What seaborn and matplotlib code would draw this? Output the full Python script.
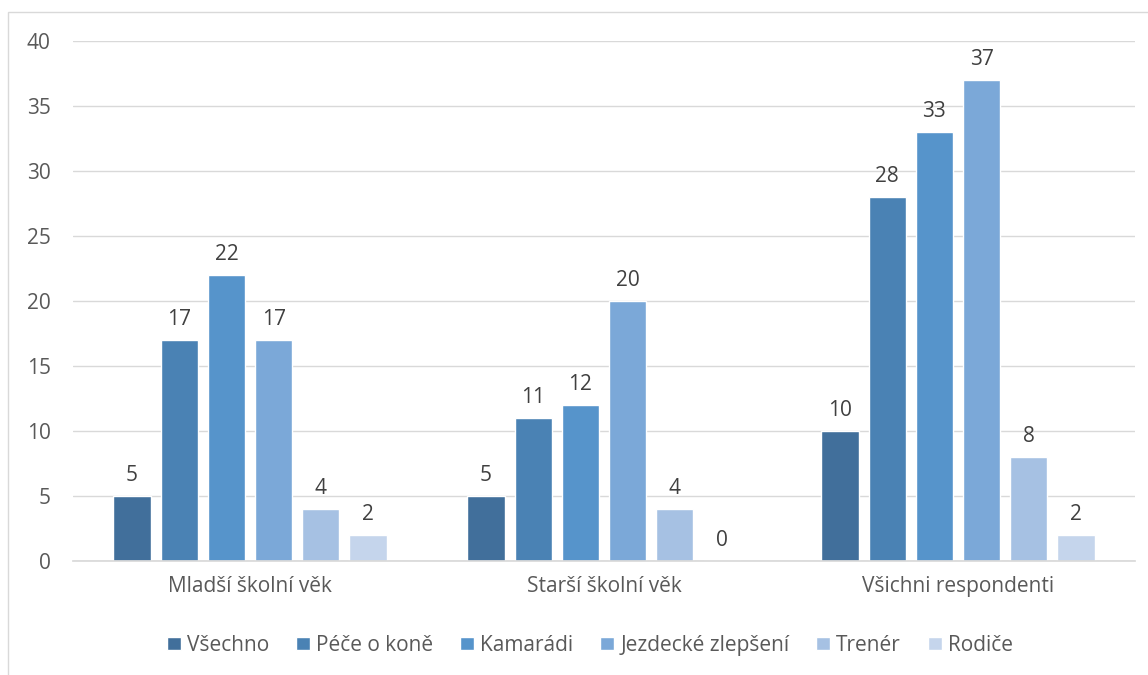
import matplotlib
matplotlib.use("Agg")
import matplotlib.pyplot as plt
import seaborn as sns
import pandas as pd
from matplotlib.patches import Rectangle

groups = ["Mladší školní věk", "Starší školní věk", "Všichni respondenti"]
series = ["Všechno", "Péče o koně", "Kamarádi", "Jezdecké zlepšení", "Trenér", "Rodiče"]
values = {
    "Všechno": [5, 5, 10],
    "Péče o koně": [17, 11, 28],
    "Kamarádi": [22, 12, 33],
    "Jezdecké zlepšení": [17, 20, 37],
    "Trenér": [4, 4, 8],
    "Rodiče": [2, 0, 2],
}
colors = ["#416F9B", "#4A82B4", "#5694CB", "#7BA8D8", "#A6C1E3", "#C5D5EC"]

rows = []
for s in series:
    for g, v in zip(groups, values[s]):
        rows.append({"group": g, "series": s, "value": v})
df = pd.DataFrame(rows)

sns.set_theme(style="white")
plt.rcParams["font.family"] = ["Open Sans", "DejaVu Sans"]

FS = 15

fig = plt.figure(figsize=(11.48, 6.75), dpi=100)
ax = fig.add_axes([0.0636, 0.1689, 0.9251, 0.7704])

sns.barplot(data=df, x="group", y="value", hue="series", order=groups,
            hue_order=series, palette=colors, width=0.8, gap=0.21,
            ax=ax, legend=True, saturation=1)

for c in ax.containers:
    ax.bar_label(c, labels=[f"{int(v)}" for v in c.datavalues], padding=7,
                 fontsize=FS, color="#404040")

ax.set_ylim(0, 40)
ax.set_yticks(range(0, 41, 5))
ax.yaxis.grid(True, color="#D9D9D9", linewidth=1)
ax.set_axisbelow(True)
ax.set_xlabel("")
ax.set_ylabel("")
for sp in ["top", "right", "left"]:
    ax.spines[sp].set_visible(False)
ax.spines["bottom"].set_color("#D9D9D9")
ax.tick_params(axis="y", length=0, pad=16, labelsize=FS, labelcolor="#595959")
ax.tick_params(axis="x", length=0, pad=11, labelsize=FS, labelcolor="#595959")

handles, labels = ax.get_legend_handles_labels()
ax.get_legend().remove()
fig.legend(handles, labels, loc="center", bbox_to_anchor=(0.514, 0.044), ncol=6,
           frameon=False, fontsize=FS, handlelength=0.65, handleheight=0.65,
           handletextpad=0.3, columnspacing=1.3, labelcolor="#595959")

fig.patches.append(Rectangle((8 / 1148, -0.01), 1.1, 1 - 12 / 675 + 0.01,
                             transform=fig.transFigure, fill=False,
                             edgecolor="#D9D9D9", linewidth=1))

fig.savefig("out.png", dpi=100)
